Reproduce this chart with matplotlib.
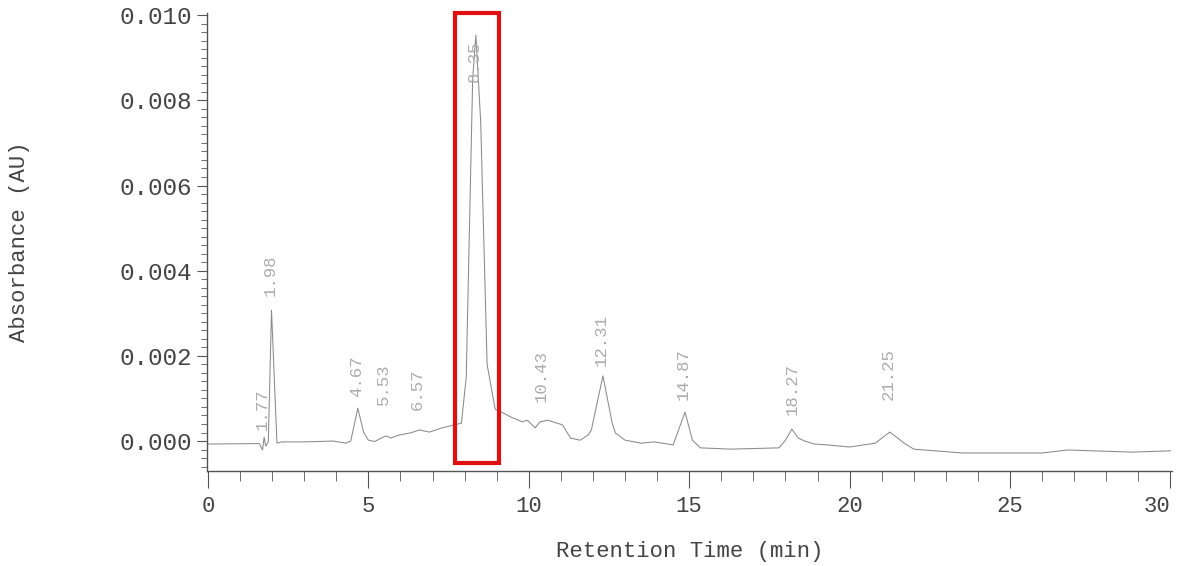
import matplotlib.pyplot as plt
from matplotlib.patches import Rectangle
from matplotlib.ticker import MultipleLocator

# retention time (min) and absorbance (AU)
time_min = [0.0, 1.6, 1.70, 1.75, 1.80, 1.88, 1.98, 2.15, 2.3, 3.0, 3.9, 4.3, 4.45,
            4.67, 4.85, 5.0, 5.2, 5.45, 5.55, 5.7, 5.95, 6.3, 6.6, 6.9, 7.3, 7.9,
            8.05, 8.25, 8.35, 8.5, 8.7, 8.95, 9.2, 9.45, 9.8, 9.95, 10.2, 10.35,
            10.6, 10.75, 11.05, 11.3, 11.6, 11.85, 11.95, 12.31, 12.6, 12.7, 13.0,
            13.5, 13.9, 14.5, 14.87, 15.1, 15.35, 16.3, 17.8, 18.0, 18.2, 18.4,
            18.6, 18.9, 19.3, 20.0, 20.8, 21.25, 21.5, 21.7, 22.0, 23.5, 25.0,
            26.0, 26.8, 27.6, 28.8, 30.0]
absorbance = [-0.00007, -0.00006, -0.00021, 0.00009, -0.00012, -0.00002, 0.00307,
              -0.00005, -0.00002, -0.00002, 0.0, -0.00005, 0.0,
              0.00077, 0.00021, 0.00002, -0.00001, 0.00009, 0.00012, 0.00007,
              0.00014, 0.00019, 0.00026, 0.00021, 0.00031, 0.00042,
              0.0015, 0.0085, 0.00953, 0.0075, 0.0018, 0.00075, 0.00066, 0.00056,
              0.00045, 0.00049, 0.00031, 0.00045,
              0.00049, 0.00045, 0.00038, 0.00007, 0.00002, 0.00014, 0.00026,
              0.00153, 0.00042, 0.00019, 0.00002,
              -0.00005, -0.00002, -0.00009, 0.00068, 0.00002, -0.00016, -0.00019,
              -0.00016, 0.00002, 0.00028, 0.00007,
              0.0, -0.00007, -0.00009, -0.00014, -0.00005, 0.00021, 0.00007,
              -0.00005, -0.00019, -0.00028, -0.00028,
              -0.00028, -0.00021, -0.00023, -0.00026, -0.00023]

# peak labels: text, retention time, absorbance where label starts
peak_labels = ['1.77', '1.98', '4.67', '5.53', '6.57', '8.35', '10.43',
               '12.31', '14.87', '18.27', '21.25']
peak_times = [1.68, 1.93, 4.62, 5.48, 6.52, 8.30, 10.38, 12.26, 14.82, 18.22, 21.20]
label_base = [0.00026, 0.0034, 0.00103, 0.00085, 0.00073, 0.00843, 0.00092,
              0.00176, 0.00096, 0.00061, 0.00096]

# highlighted region
box_t = (7.69, 9.07)
box_a = (-0.00052, 0.01005)

mono = 'Liberation Mono'

fig = plt.figure(figsize=(11.81, 5.66), dpi=100)
ax = fig.add_axes([0.1753, 0.1678, 0.8171, 0.8092])

ax.plot(time_min, absorbance, color='#8a8a8a', lw=0.75)

for txt, t, a in zip(peak_labels, peak_times, label_base):
    ax.text(t, a, txt, rotation=90, ha='center', va='bottom',
            fontsize=12.5, color='#acacac', family=mono)

ax.add_patch(Rectangle((box_t[0], box_a[0]), box_t[1] - box_t[0],
                       box_a[1] - box_a[0], fill=False, edgecolor='#e01010',
                       lw=3, clip_on=False, zorder=5))

ax.set_xlim(-0.03, 30.05)
ax.set_ylim(-0.000704, 0.01005)

ax.xaxis.set_major_locator(MultipleLocator(5))
ax.xaxis.set_minor_locator(MultipleLocator(1))
ax.yaxis.set_major_locator(MultipleLocator(0.002))
ax.yaxis.set_minor_locator(MultipleLocator(0.0002))
ax.yaxis.set_major_formatter(plt.FormatStrFormatter('%.3f'))

for s in ['top', 'right']:
    ax.spines[s].set_visible(False)
for s in ['left', 'bottom']:
    ax.spines[s].set_color('#555555')
    ax.spines[s].set_linewidth(1.0)

ax.tick_params(axis='both', which='major', direction='out', color='#555555',
               labelcolor='#444444')
ax.tick_params(axis='x', which='major', length=12, pad=6, labelsize=16)
ax.tick_params(axis='x', which='minor', length=7, color='#555555')
ax.tick_params(axis='y', which='major', length=7, pad=4, labelsize=17.5)
ax.tick_params(axis='y', which='minor', length=4, color='#555555')

fig.canvas.draw()
for lab in ax.get_xticklabels() + ax.get_yticklabels():
    lab.set_family(mono)
xlabs = [l for l in ax.get_xticklabels() if l.get_text() == '30']
for l in xlabs:
    l.set_horizontalalignment('right')

ax.set_xlabel('Retention Time (min)', family=mono, fontsize=16, color='#444444',
              labelpad=17)
ax.set_ylabel('Absorbance (AU)', family=mono, fontsize=16, color='#444444',
              labelpad=64)

fig.savefig('out.png', dpi=100)
